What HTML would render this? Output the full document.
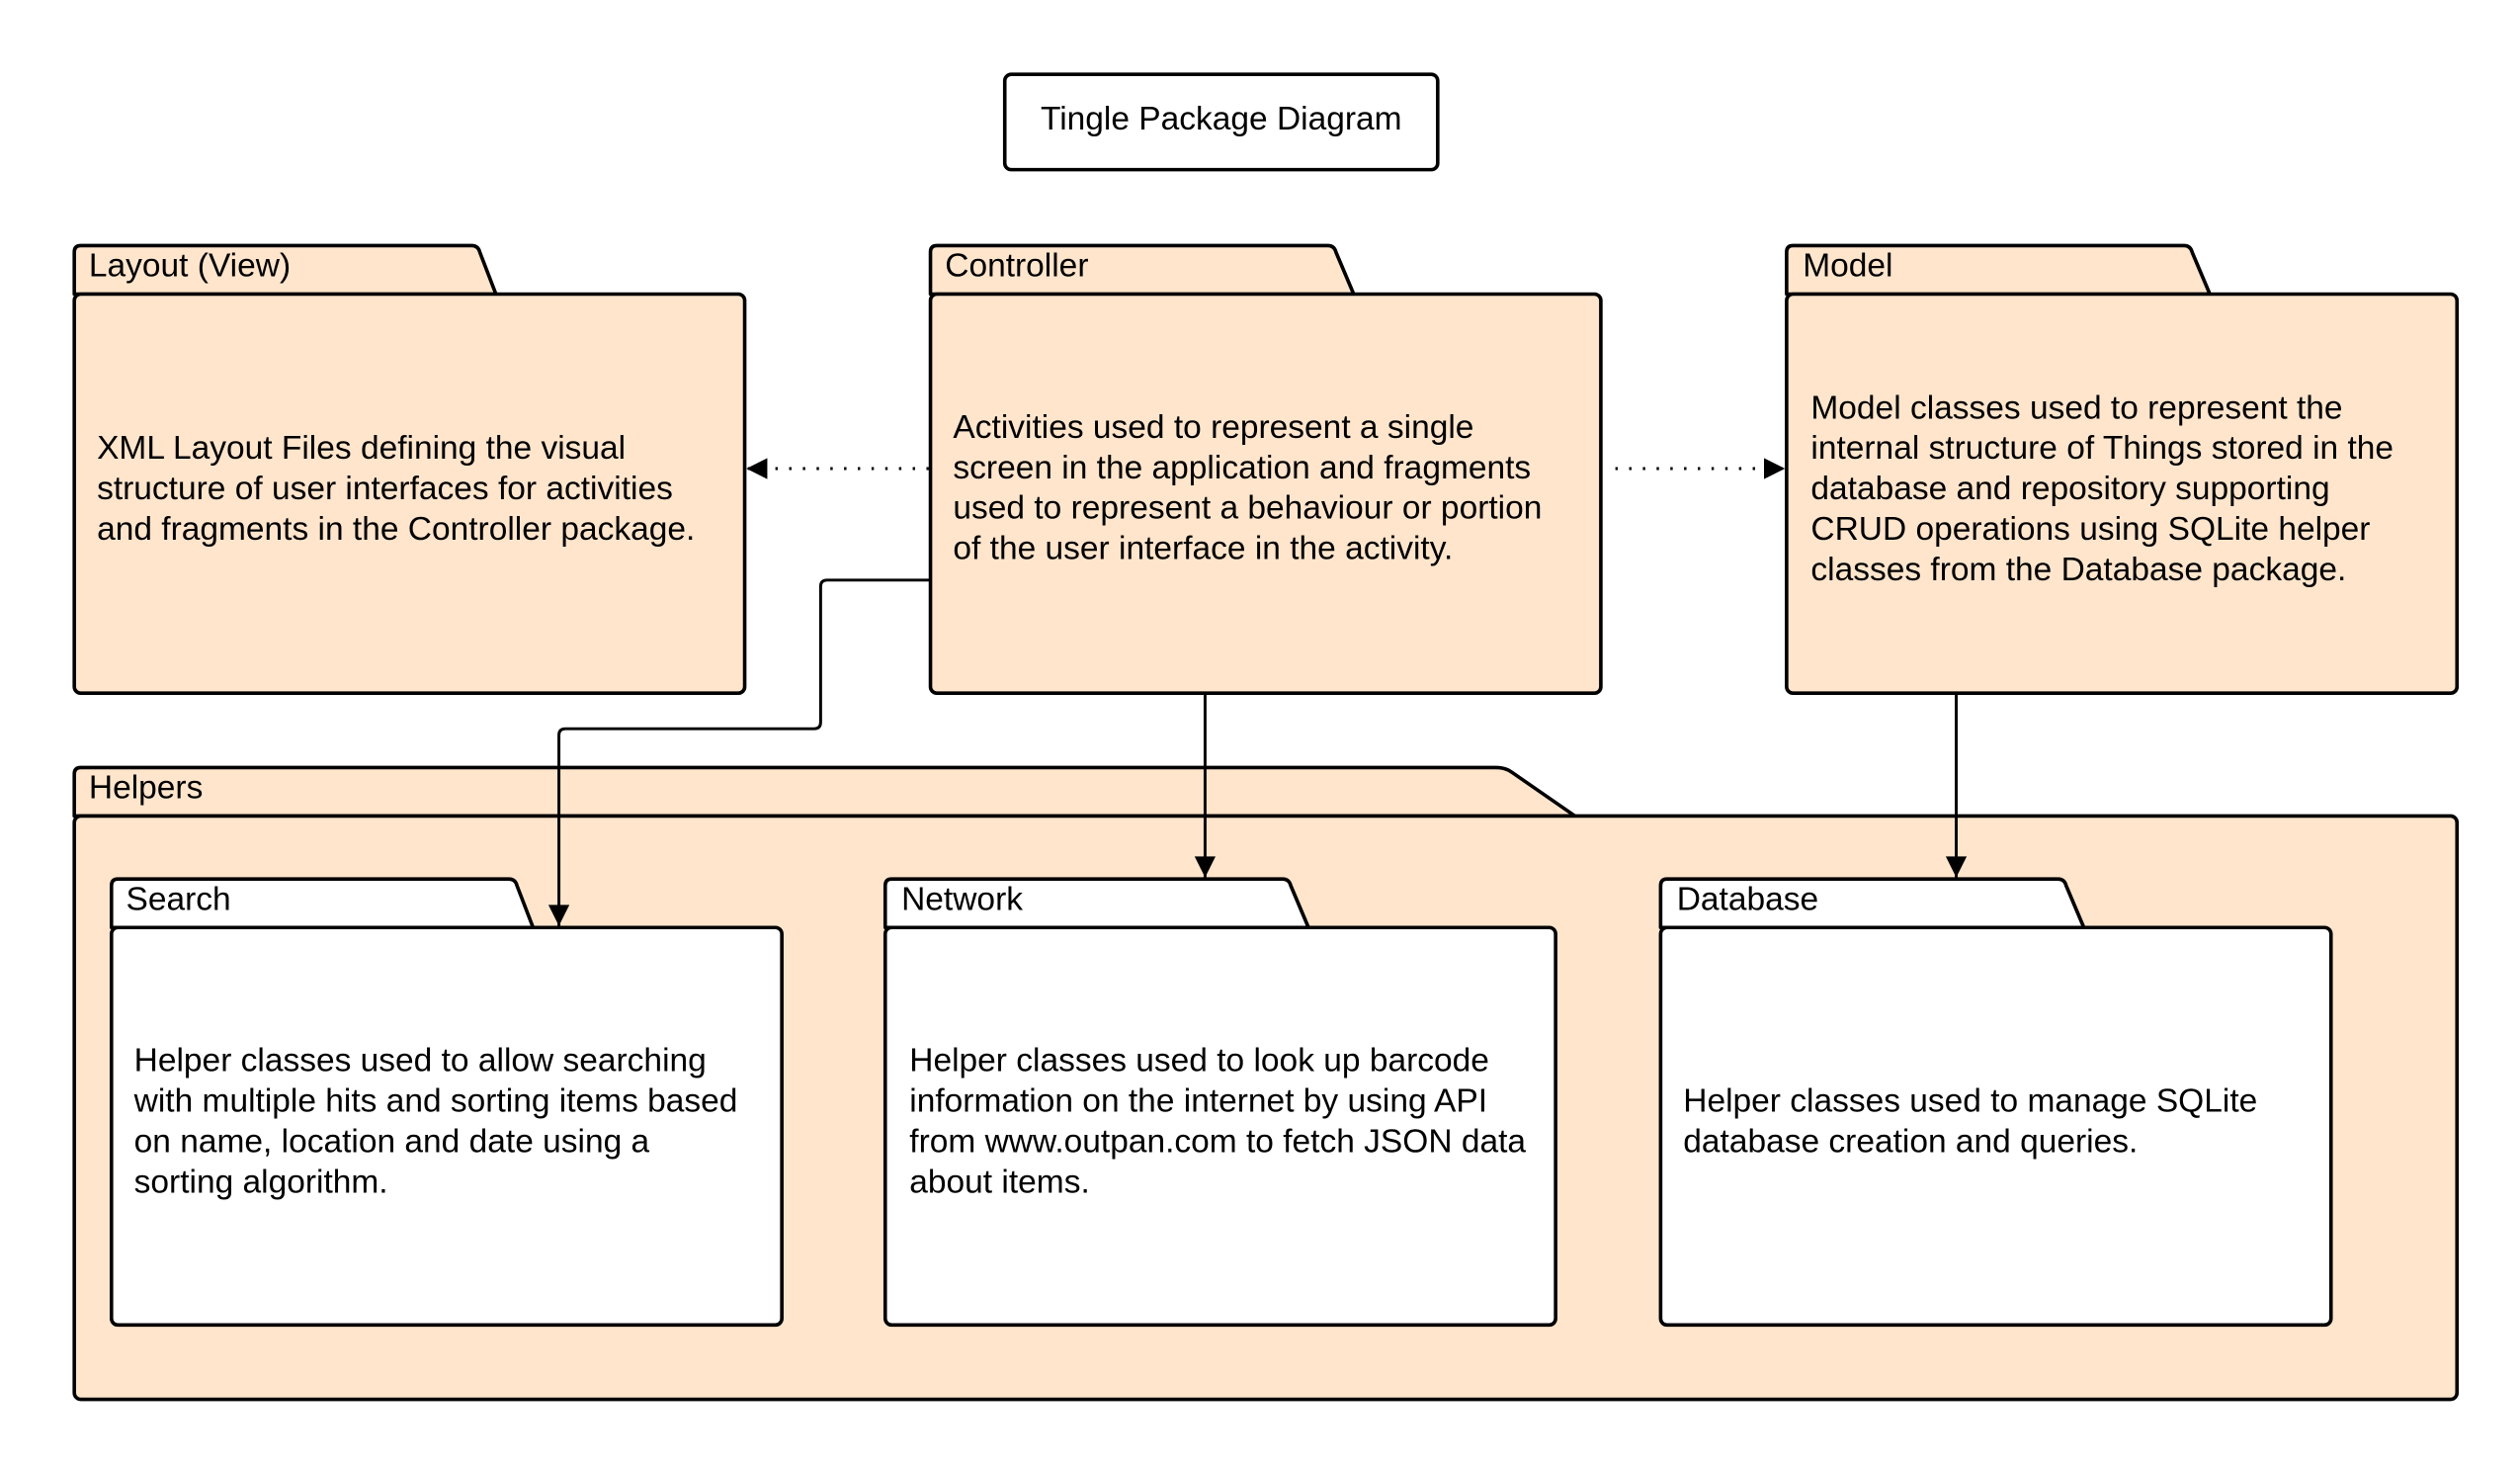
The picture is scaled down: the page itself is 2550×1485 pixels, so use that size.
<!DOCTYPE html>
<html><head><meta charset="utf-8"><style>html,body{margin:0;padding:0;background:#fff}svg{display:block}</style></head>
<body>
<svg width="2550" height="1485" viewBox="0 0 1560 908.5" preserveAspectRatio="none" xmlns="http://www.w3.org/2000/svg" font-family="Liberation Sans, sans-serif" font-size="20.5" fill="#000">
<defs>
<marker id="ah2" viewBox="0 0 10 10" refX="10" refY="5" markerWidth="17" markerHeight="13" markerUnits="userSpaceOnUse" orient="auto"><path d="M0,0 L10,5 L0,10 z" fill="#000"/></marker>
</defs>
<g stroke="#000" stroke-width="2.2" stroke-linejoin="round">
<rect x="622" y="46" width="268" height="59" rx="4" fill="#fff"/>
<path d="M46,182 V156 Q46,152 50,152 H292 Q296,152 297,156 L307,182 Z" fill="#ffe5cc"/>
<rect x="46" y="182" width="415" height="247" rx="4" fill="#ffe5cc"/>
<path d="M576,182 V156 Q576,152 580,152 H822 Q826,152 827,156 L838,182 Z" fill="#ffe5cc"/>
<rect x="576" y="182" width="415" height="247" rx="4" fill="#ffe5cc"/>
<path d="M1106,182 V156 Q1106,152 1110,152 H1352 Q1356,152 1357,156 L1368,182 Z" fill="#ffe5cc"/>
<rect x="1106" y="182" width="415" height="247" rx="4" fill="#ffe5cc"/>
<path d="M46,505 V479 Q46,475 50,475 H926 Q932,475 936,478 L975,505 Z" fill="#ffe5cc"/>
<rect x="46" y="505" width="1475" height="361" rx="4" fill="#ffe5cc"/>
<path d="M69,574 V548 Q69,544 73,544 H315 Q319,544 320,548 L330,574 Z" fill="#fff"/>
<rect x="69" y="574" width="415" height="246" rx="4" fill="#fff"/>
<path d="M548,574 V548 Q548,544 552,544 H794 Q798,544 799,548 L810,574 Z" fill="#fff"/>
<rect x="548" y="574" width="415" height="246" rx="4" fill="#fff"/>
<path d="M1028,574 V548 Q1028,544 1032,544 H1274 Q1278,544 1279,548 L1290,574 Z" fill="#fff"/>
<rect x="1028" y="574" width="415" height="246" rx="4" fill="#fff"/>
</g>
<g stroke="#000" fill="none" stroke-width="1.8">
<line x1="575" y1="290" x2="462" y2="290" stroke-dasharray="1.5 7" marker-end="url(#ah2)"/>
<line x1="1000" y1="290" x2="1105" y2="290" stroke-dasharray="1.5 7" marker-end="url(#ah2)"/>
<line x1="746" y1="430" x2="746" y2="543" marker-end="url(#ah2)"/>
<line x1="1211" y1="430" x2="1211" y2="543" marker-end="url(#ah2)"/>
<path d="M576,359 H512 Q508,359 508,363 V447 Q508,451 504,451 H350 Q346,451 346,455 V573" marker-end="url(#ah2)"/>
</g>
<text x="756" y="80" text-anchor="middle">Tingle Package Diagram</text>
<text x="55" y="171">Layout (View)</text>
<text x="585" y="171">Controller</text>
<text x="1116" y="171">Model</text>
<text x="55" y="494">Helpers</text>
<text x="78" y="563">Search</text>
<text x="558" y="563">Network</text>
<text x="1038" y="563">Database</text>
<g>
<text x="60" y="284">XML Layout Files defining the visual</text>
<text x="60" y="309">structure of user interfaces for activities</text>
<text x="60" y="334">and fragments in the Controller package.</text>
<text x="590" y="271">Activities used to represent a single</text>
<text x="590" y="296">screen in the application and fragments</text>
<text x="590" y="321">used to represent a behaviour or portion</text>
<text x="590" y="346">of the user interface in the activity.</text>
<text x="1121" y="259">Model classes used to represent the</text>
<text x="1121" y="284">internal structure of Things stored in the</text>
<text x="1121" y="309">database and repository supporting</text>
<text x="1121" y="334">CRUD operations using SQLite helper</text>
<text x="1121" y="359">classes from the Database package.</text>
<text x="83" y="663">Helper classes used to allow searching</text>
<text x="83" y="688">with multiple hits and sorting items based</text>
<text x="83" y="713">on name, location and date using a</text>
<text x="83" y="738">sorting algorithm.</text>
<text x="563" y="663">Helper classes used to look up barcode</text>
<text x="563" y="688">information on the internet by using API</text>
<text x="563" y="713">from www.outpan.com to fetch JSON data</text>
<text x="563" y="738">about items.</text>
<text x="1042" y="688">Helper classes used to manage SQLite</text>
<text x="1042" y="713">database creation and queries.</text>
</g>
</svg>
</body></html>
